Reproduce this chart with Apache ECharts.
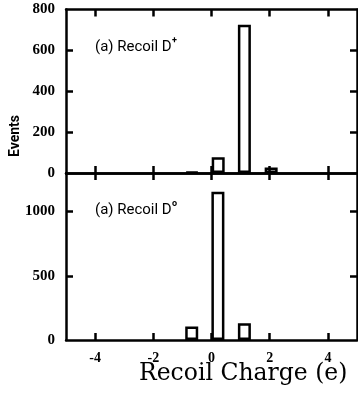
<!DOCTYPE html>
<html>
<head>
<meta charset="utf-8">
<script src="https://cdn.jsdelivr.net/npm/echarts@6/dist/echarts.min.js"></script>
<style>
html,body{margin:0;padding:0;background:#fff;}
#chart{width:358px;height:397px;}
</style>
</head>
<body>
<div id="chart"></div>
<script>
// Data
const xTicks = [-4, -2, 0, 2, 4];
const binCentersDplus = [-0.67, 0.23, 1.13, 2.05];
const eventsDplus = [6, 77, 725, 27];
const binCentersDzero = [-0.68, 0.22, 1.13];
const eventsDzero = [105, 1155, 130];
const yLabelsTop = [0, 200, 400, 600, 800];
const yTicksTop = [200, 400, 600];
const yLabelsBottom = [0, 500, 1000];
const yTicksBottom = [500, 1000];

const pairs = (xs, ys) => xs.map((x, i) => [x, ys[i]]);

const LW = 2.5;
const lineStyle = { color: '#000', width: LW };
const tickStyle = { color: '#000', width: LW };
const labelFont = { fontFamily: 'Liberation Serif', fontWeight: 'bold', color: '#000', formatter: v => String(v) };

function xAxis(grid, position, showLabels) {
  return {
    type: 'value', gridIndex: grid, position: position, min: -5, max: 5,
    axisLine: { show: true, onZero: false, lineStyle: lineStyle },
    axisTick: { show: true, inside: true, length: 7, lineStyle: tickStyle, customValues: xTicks },
    axisLabel: showLabels ? Object.assign({ show: true, fontSize: 14, margin: 11, customValues: xTicks }, labelFont) : { show: false },
    splitLine: { show: false }
  };
}
function yAxis(grid, position, max, labels, ticks) {
  return {
    type: 'value', gridIndex: grid, position: position, min: 0, max: max,
    axisLine: { show: true, onZero: false, lineStyle: lineStyle },
    axisTick: { show: true, inside: true, length: 7, lineStyle: tickStyle, customValues: ticks },
    axisLabel: labels ? Object.assign({ show: true, fontSize: 15, margin: 11, customValues: labels }, labelFont) : { show: false },
    splitLine: { show: false }
  };
}

const barStyle = { color: 'rgba(255,255,255,0)', borderColor: '#000', borderWidth: LW };

const chart = echarts.init(document.getElementById('chart'), null, { renderer: 'canvas' });
chart.setOption({
  animation: false,
  backgroundColor: '#fff',
  grid: [
    { left: 66, right: 1, top: 9.5, height: 163.5, outerBoundsMode: 'none', containLabel: false },
    { left: 66, right: 1, top: 173, height: 167, outerBoundsMode: 'none', containLabel: false }
  ],
  xAxis: [
    xAxis(0, 'bottom', false),
    xAxis(0, 'top', false),
    xAxis(1, 'bottom', true),
    xAxis(1, 'top', false)
  ],
  yAxis: [
    yAxis(0, 'left', 800, yLabelsTop, yTicksTop),
    yAxis(0, 'right', 800, null, yTicksTop),
    yAxis(1, 'left', 1300, yLabelsBottom, yTicksBottom),
    yAxis(1, 'right', 1300, null, yTicksBottom)
  ],
  series: [
    { type: 'bar', xAxisIndex: 0, yAxisIndex: 0, barWidth: 13, itemStyle: barStyle, data: pairs(binCentersDplus, eventsDplus), silent: true },
    { type: 'bar', xAxisIndex: 2, yAxisIndex: 2, barWidth: 13, itemStyle: barStyle, data: pairs(binCentersDzero, eventsDzero), silent: true }
  ],
  graphic: [
    { type: 'text', x: 95, y: 47, style: { text: '(a) Recoil D', fontFamily: 'Roboto', fontSize: 15, fill: '#000', verticalAlign: 'middle' } },
    { type: 'text', x: 172, y: 41, style: { text: '+', fontFamily: 'Roboto', fontWeight: 'bold', fontSize: 9, fill: '#000', verticalAlign: 'middle' } },
    { type: 'text', x: 95, y: 210, style: { text: '(a) Recoil D', fontFamily: 'Roboto', fontSize: 15, fill: '#000', verticalAlign: 'middle' } },
    { type: 'text', x: 172, y: 204, style: { text: 'o', fontFamily: 'Roboto', fontWeight: 'bold', fontSize: 9, fill: '#000', verticalAlign: 'middle' } },
    { type: 'text', x: 15, y: 136, rotation: Math.PI / 2, style: { text: 'Events', fontFamily: 'Roboto', fontWeight: 'bold', fontSize: 14, fill: '#000', align: 'center', verticalAlign: 'middle' } },
    { type: 'text', x: 139, y: 374, style: { text: 'Recoil Charge (e)', fontFamily: 'DejaVu Serif', fontSize: 23.5, fill: '#000', verticalAlign: 'middle' } }
  ]
});
</script>
</body>
</html>
